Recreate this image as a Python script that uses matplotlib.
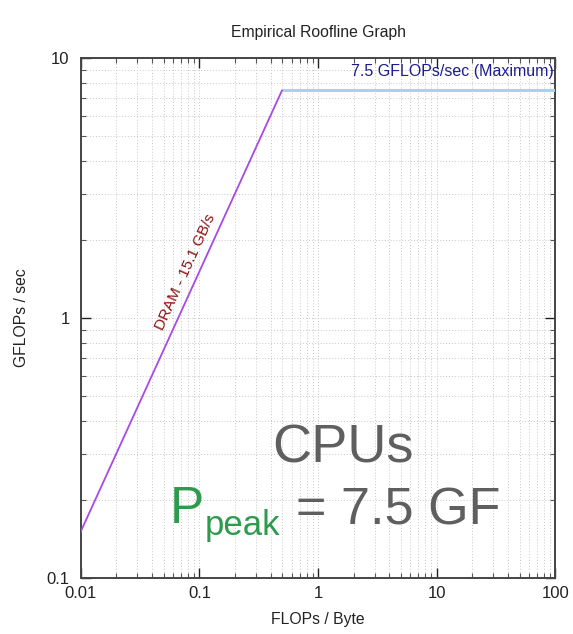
import numpy as np
import matplotlib.pyplot as plt
from matplotlib.ticker import LogLocator, NullFormatter, FixedLocator, FixedFormatter

plt.rcParams['font.family'] = ['Liberation Sans', 'DejaVu Sans']

# roofline data
peak_gflops = 7.5
dram_bw = 15.1
x_ticks = [0.01, 0.1, 1, 10, 100]
x_labels = ['0.01', '0.1', '1', '10', '100']
y_ticks = [0.1, 1, 10]
y_labels = ['0.1', '1', '10']

ridge = peak_gflops / dram_bw
x_bw = np.array([0.01, ridge])
y_bw = dram_bw * x_bw
x_peak = np.array([ridge, 100])
y_peak = np.array([peak_gflops, peak_gflops])

fig = plt.figure(figsize=(5.73, 6.34), dpi=100)
ax = fig.add_axes([0.141, 0.0883, 0.828, 0.8202])

ax.set_xscale('log')
ax.set_yscale('log')
ax.set_xlim(0.01, 100)
ax.set_ylim(0.1, 10)

ax.plot(x_peak, y_peak, color='#a9d2e8', lw=2.2, solid_capstyle='butt', zorder=3)
ax.plot(x_bw, y_bw, color='#a64ae6', lw=1.3, zorder=3)

ax.xaxis.set_major_locator(FixedLocator(x_ticks))
ax.xaxis.set_major_formatter(FixedFormatter(x_labels))
ax.yaxis.set_major_locator(FixedLocator(y_ticks))
ax.yaxis.set_major_formatter(FixedFormatter(y_labels))
ax.xaxis.set_minor_locator(LogLocator(base=10, subs=np.arange(2, 10)))
ax.yaxis.set_minor_locator(LogLocator(base=10, subs=np.arange(2, 10)))
ax.xaxis.set_minor_formatter(NullFormatter())
ax.yaxis.set_minor_formatter(NullFormatter())

ax.tick_params(which='both', direction='in', top=True, right=True, color='#555555')
ax.tick_params(which='major', length=7, width=1, labelsize=12, colors='#222222')
ax.tick_params(axis='x', which='major', pad=6)
ax.tick_params(axis='y', which='major', pad=8)
ax.tick_params(which='minor', length=3.5, width=0.8)

ax.grid(True, which='both', color='#c8c8c8', ls=(0, (1, 2)), lw=0.7)
for s in ax.spines.values():
    s.set_color('#444444')
    s.set_linewidth(1.4)

ax.set_xlabel('FLOPs / Byte', fontsize=11.3, color='#222222', labelpad=8)
ax.set_ylabel('GFLOPs / sec', fontsize=11.3, color='#222222', labelpad=13)
ax.set_title('Empirical Roofline Graph', fontsize=11.3, color='#222222', pad=15)

ax.text(98, 8.85, '7.5 GFLOPs/sec (Maximum)', color='#1c1c8c', fontsize=11.5,
        ha='right', va='center')
ax.text(0.076, 1.5, 'DRAM - 15.1 GB/s', color='#8b1010', fontsize=11,
        rotation=65.5, rotation_mode='anchor', ha='center', va='center')

# big overlay text
fig.text(0.475, 0.271, 'CPUs', fontsize=39, color='#5f5f5f', ha='left', va='baseline')
fig.text(0.297, 0.175, 'P', fontsize=37, color='#2e9a4e', ha='left', va='baseline')
fig.text(0.358, 0.156, 'peak', fontsize=25, color='#2e9a4e', ha='left', va='baseline')
fig.text(0.517, 0.172, '= 7.5 GF', fontsize=37.5, color='#5f5f5f', ha='left', va='baseline')

fig.savefig('out.png', dpi=100)
